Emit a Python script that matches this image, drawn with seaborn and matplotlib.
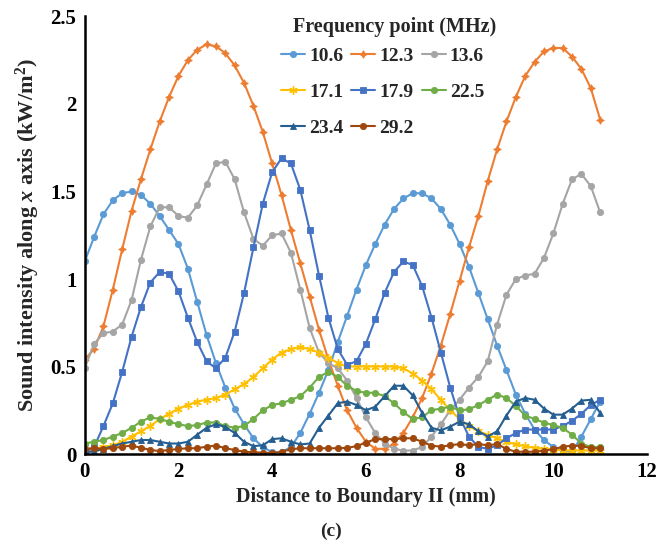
import matplotlib
matplotlib.use("Agg")
import matplotlib.pyplot as plt
import seaborn as sns
import pandas as pd

# ---------------- data ----------------
distance_mm = [0.0, 0.2, 0.4, 0.6, 0.8, 1.0, 1.2, 1.4, 1.6, 1.8,
               2.0, 2.2, 2.4, 2.6, 2.8, 3.0, 3.2, 3.4, 3.6, 3.8,
               4.0, 4.2, 4.4, 4.6, 4.8, 5.0, 5.2, 5.4, 5.6, 5.8,
               6.0, 6.2, 6.4, 6.6, 6.8, 7.0, 7.2, 7.4, 7.6, 7.8,
               8.0, 8.2, 8.4, 8.6, 8.8, 9.0, 9.2, 9.4, 9.6, 9.8,
               10.0, 10.2, 10.4, 10.6, 10.8, 11.0]

f10_6 = [1.10, 1.24, 1.37, 1.45, 1.49, 1.50, 1.48, 1.43, 1.36, 1.28, 1.20,
         1.06, 0.87, 0.68, 0.52, 0.38, 0.26, 0.17, 0.09, 0.04, 0.01,
         0.01, 0.04, 0.12, 0.23, 0.35, 0.48, 0.64, 0.79, 0.94, 1.08,
         1.20, 1.31, 1.40, 1.46, 1.49, 1.49, 1.46, 1.40, 1.31, 1.20,
         1.07, 0.92, 0.77, 0.62, 0.48, 0.34, 0.23, 0.14, 0.08, 0.04,
         0.02, 0.01, 0.10, 0.20, 0.30]

f12_3 = [0.54, 0.60, 0.73, 0.94, 1.17, 1.39, 1.57, 1.74, 1.90, 2.04, 2.16,
         2.25, 2.31, 2.34, 2.33, 2.29, 2.22, 2.12, 1.99, 1.84, 1.66,
         1.48, 1.28, 1.09, 0.90, 0.71, 0.54, 0.39, 0.25, 0.15, 0.07,
         0.03, 0.03, 0.06, 0.12, 0.21, 0.32, 0.46, 0.62, 0.80, 0.99,
         1.18, 1.36, 1.56, 1.74, 1.90, 2.04, 2.16, 2.24, 2.30, 2.32,
         2.32, 2.27, 2.20, 2.09, 1.91]

f13_6 = [0.49, 0.63, 0.69, 0.70, 0.74, 0.88, 1.11, 1.30, 1.41, 1.41, 1.36,
         1.35, 1.42, 1.54, 1.66, 1.67, 1.57, 1.38, 1.23, 1.19, 1.25,
         1.26, 1.15, 0.94, 0.72, 0.58, 0.52, 0.49, 0.42, 0.32, 0.21,
         0.12, 0.06, 0.03, 0.02, 0.02, 0.04, 0.10, 0.17, 0.25, 0.31,
         0.38, 0.44, 0.53, 0.74, 0.91, 1.00, 1.02, 1.03, 1.12, 1.26,
         1.43, 1.57, 1.60, 1.53, 1.38]

f17_1 = [0.02, 0.03, 0.04, 0.05, 0.07, 0.10, 0.13, 0.16, 0.20, 0.23, 0.26,
         0.28, 0.30, 0.31, 0.32, 0.34, 0.37, 0.40, 0.44, 0.49, 0.54,
         0.58, 0.60, 0.61, 0.60, 0.58, 0.55, 0.52, 0.50, 0.50, 0.50,
         0.50, 0.50, 0.50, 0.49, 0.46, 0.42, 0.37, 0.31, 0.25, 0.20,
         0.16, 0.13, 0.11, 0.09, 0.07, 0.055, 0.045, 0.035, 0.03, 0.025,
         0.02, 0.02, 0.02, 0.02, 0.02]

f17_9 = [0.01, 0.04, 0.16, 0.29, 0.47, 0.67, 0.84, 0.98, 1.04, 1.03, 0.93,
         0.78, 0.64, 0.53, 0.49, 0.55, 0.70, 0.92, 1.18, 1.43, 1.61,
         1.69, 1.66, 1.51, 1.28, 1.02, 0.78, 0.60, 0.51, 0.53, 0.63,
         0.77, 0.92, 1.04, 1.10, 1.08, 0.96, 0.78, 0.58, 0.38, 0.21,
         0.10, 0.04, 0.03, 0.05, 0.09, 0.12, 0.14, 0.14, 0.14, 0.14,
         0.16, 0.19, 0.23, 0.28, 0.31]

f22_5 = [0.06, 0.07, 0.08, 0.10, 0.12, 0.15, 0.185, 0.21, 0.20, 0.185, 0.17,
         0.16, 0.165, 0.18, 0.18, 0.16, 0.15, 0.16, 0.20, 0.25, 0.28,
         0.29, 0.31, 0.33, 0.38, 0.44, 0.47, 0.44, 0.39, 0.36, 0.35,
         0.35, 0.33, 0.29, 0.24, 0.20, 0.21, 0.25, 0.26, 0.27, 0.25,
         0.255, 0.28, 0.31, 0.34, 0.32, 0.275, 0.22, 0.20, 0.18, 0.165,
         0.15, 0.11, 0.06, 0.04, 0.04]

f23_4 = [0.01, 0.015, 0.03, 0.045, 0.06, 0.07, 0.08, 0.08, 0.07, 0.06, 0.06,
         0.07, 0.11, 0.15, 0.17, 0.155, 0.12, 0.07, 0.045, 0.05, 0.085,
         0.09, 0.07, 0.055, 0.06, 0.15, 0.22, 0.29, 0.30, 0.28, 0.25,
         0.27, 0.33, 0.39, 0.39, 0.335, 0.235, 0.15, 0.135, 0.157, 0.185,
         0.17, 0.13, 0.10, 0.13, 0.22, 0.30, 0.32, 0.31, 0.26, 0.225,
         0.225, 0.26, 0.305, 0.31, 0.235]

f29_2 = [0.03, 0.033, 0.03, 0.033, 0.042, 0.048, 0.036, 0.023, 0.017, 0.023, 0.029,
         0.033, 0.033, 0.042, 0.048, 0.033, 0.023, 0.013, 0.01, 0.008, 0.005,
         0.013, 0.027, 0.033, 0.033, 0.033, 0.033, 0.033, 0.035, 0.045, 0.065,
         0.085, 0.085, 0.085, 0.09, 0.09, 0.07, 0.048, 0.042, 0.05, 0.057,
         0.05, 0.057, 0.05, 0.057, 0.029, 0.013, 0.013, 0.013, 0.019, 0.027,
         0.042, 0.048, 0.046, 0.033, 0.033]

series_labels = ["10.6", "12.3", "13.6", "17.1", "17.9", "22.5", "23.4", "29.2"]
series_values = [f10_6, f12_3, f13_6, f17_1, f17_9, f22_5, f23_4, f29_2]
series_colors = ["#5B9BD5", "#ED7D31", "#A5A5A5", "#FFC000",
                 "#4472C4", "#70AD47", "#255E91", "#9E480E"]
series_markers = ["o", (4, 1, 0), "o", (6, 2, 0), "s", "o", "^", "o"]
series_msize = [4.5, 5.5, 4.5, 6.0, 4.5, 4.5, 5.0, 4.5]

x_ticks = [0, 2, 4, 6, 8, 10, 12]
y_ticks = [0, 0.5, 1, 1.5, 2, 2.5]
y_tick_labels = ["0", "0.5", "1", "1.5", "2", "2.5"]

# ---------------- style ----------------
sns.set_theme(style="white")
plt.rcParams["font.family"] = ["Liberation Serif", "DejaVu Serif"]
plt.rcParams["font.weight"] = "bold"
plt.rcParams["mathtext.fontset"] = "custom"
plt.rcParams["mathtext.rm"] = "Liberation Serif:bold"
plt.rcParams["mathtext.it"] = "Liberation Serif:italic:bold"
plt.rcParams["mathtext.bf"] = "Liberation Serif:bold"

fig = plt.figure(figsize=(6.65, 5.49), dpi=100)
ax = fig.add_axes([0.1274, 0.173, 0.973 - 0.1274, 0.970 - 0.173])

rows = []
for lab, vals in zip(series_labels, series_values):
    for xv, yv in zip(distance_mm, vals):
        rows.append({"x": xv, "y": yv, "freq": lab})
df = pd.DataFrame(rows)

handles = {}
for lab, col, mk, ms in zip(series_labels, series_colors, series_markers, series_msize):
    sub = df[df["freq"] == lab]
    sns.lineplot(data=sub, x="x", y="y", ax=ax, color=col, linewidth=1.5,
                 marker=mk, markersize=ms, markeredgewidth=1.0 if mk == (6, 2, 0) else 0.6,
                 markeredgecolor=col, markerfacecolor=col, label=lab,
                 estimator=None, sort=False)
    handles[lab] = ax.get_lines()[-1]

ax.set_xlim(0, 12)
ax.set_ylim(0, 2.5)
ax.set_xticks(x_ticks)
ax.set_xticklabels([str(t) for t in x_ticks])
ax.set_yticks(y_ticks)
ax.set_yticklabels(y_tick_labels)
for sp in ["top", "right"]:
    ax.spines[sp].set_visible(False)
for sp in ["left", "bottom"]:
    ax.spines[sp].set_color("black")
    ax.spines[sp].set_linewidth(1.8)
ax.tick_params(axis="both", direction="in", length=5, width=1.5, colors="black",
               labelsize=15, pad=6)
for t in ax.get_xticklabels() + ax.get_yticklabels():
    t.set_fontweight("bold")

ax.set_xlabel("Distance to Boundary II (mm)", fontsize=14.5, fontweight="bold", labelpad=3)
ax.set_ylabel(r"Sound intensity along $x$ axis (kW/m$^{2}$)", fontsize=16,
              fontweight="bold", labelpad=6)

# legend title drawn as figure text, entries as a 3-column legend
fig.text(395 / 665, 1 - 27 / 549, "Frequency point (MHz)", ha="center", va="center",
         fontsize=14.5, fontweight="bold")
order = ["10.6", "17.1", "23.4", "12.3", "17.9", "29.2", "13.6", "22.5"]
leg = ax.legend([handles[k] for k in order], order, ncol=3, frameon=False,
                loc="upper left", bbox_to_anchor=(279 / 665, 1 - 45 / 549),
                bbox_transform=fig.transFigure,
                prop={"family": "Liberation Serif", "weight": "bold", "size": 14},
                handlelength=1.25, handletextpad=0.2, columnspacing=0.4,
                labelspacing=0.95, borderpad=0.1, borderaxespad=0)

fig.text(0.497, 0.033, "(c)", ha="center", va="center", fontsize=14, fontweight="bold")

fig.savefig("out.png", dpi=100, facecolor="white")
